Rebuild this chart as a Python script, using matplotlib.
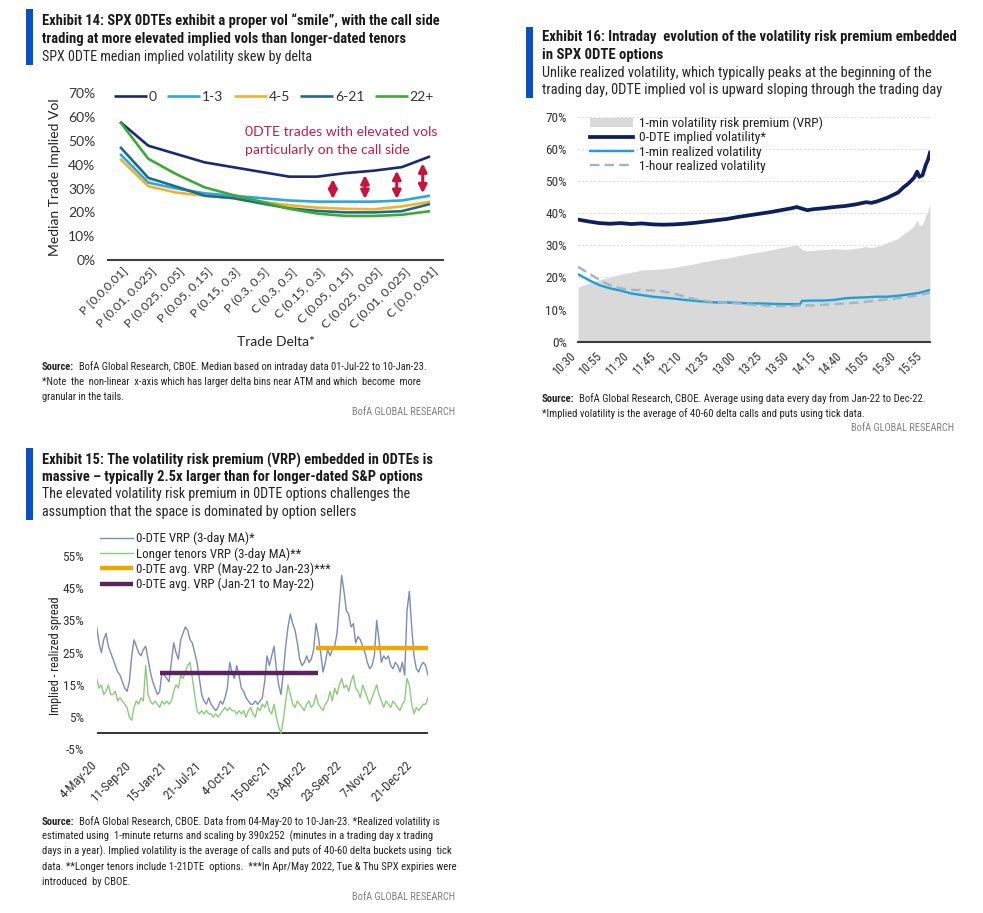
import matplotlib
matplotlib.use('Agg')
import matplotlib.pyplot as plt
import numpy as np
from matplotlib.patches import Rectangle
from matplotlib.transforms import ScaledTranslation
from matplotlib import font_manager as fm

W, H, DPI = 983, 913, 100
CHART14 = ['Lato', 'DejaVu Sans']
BLUE = '#0B4FC5'
TXT = '#1a1a1a'
RED = '#C8143C'

# ---------------- Exhibit 14 data ----------------
delta_labels = ['P [0.0,0.01]', 'P (0.01, 0.025]', 'P (0.025, 0.05]', 'P (0.05, 0.15]',
                'P (0.15, 0.3]', 'P (0.3, 0.5]', 'C (0.3, 0.5]', 'C (0.15, 0.3]',
                'C (0.05, 0.15]', 'C (0.025, 0.05]', 'C (0.01, 0.025]', 'C [0.0, 0.01]']
tenor_names = ['0', '1-3', '4-5', '6-21', '22+']
iv_0 = [58, 48, 44.5, 41, 39, 37, 35, 35, 36.5, 37.5, 39, 43.5]
iv_1_3 = [44.5, 32.5, 30, 28, 27, 26, 25, 24.5, 24.5, 24.5, 25, 27]
iv_4_5 = [42.5, 31, 28.3, 27, 26, 24.5, 23, 22, 21.5, 21.3, 22.5, 24.5]
iv_6_21 = [47.5, 34.5, 30.8, 27, 26, 23.8, 21.7, 20.6, 20, 20, 20.5, 23.5]
iv_22p = [58, 42.5, 36, 30.5, 27.3, 24.5, 21.5, 19.5, 18.5, 18.5, 19, 20.5]
tenor_colors = ['#1B2A6B', '#2AA8E0', '#F2B12A', '#1F6C8A', '#3DAA35']
arrow_x = [7.55, 8.69, 9.82, 10.74]
arrow_lo = [25.6, 25.6, 25.6, 28.0]
arrow_hi = [34.0, 35.7, 37.5, 40.6]

# ---------------- Exhibit 16 data ----------------
imp_times = ['10:30', '10:40', '10:50', '11:00', '11:10', '11:20', '11:30', '11:40', '11:50',
             '12:00', '12:10', '12:20', '12:30', '12:40', '12:50', '13:00', '13:10', '13:20',
             '13:30', '13:40', '13:50', '13:55', '14:00', '14:05', '14:10', '14:20', '14:30',
             '14:40', '14:50', '15:00', '15:05', '15:10', '15:20', '15:30', '15:35', '15:40',
             '15:45', '15:48', '15:50', '15:53', '15:56', '15:58', '16:00']
implied_vol = [38.0, 37.4, 36.9, 36.7, 36.9, 36.6, 36.8, 36.5, 36.4,
               36.5, 36.7, 37.0, 37.4, 37.8, 38.2, 38.8, 39.3, 39.8,
               40.3, 40.9, 41.5, 41.9, 41.4, 40.9, 41.2, 41.5, 41.9,
               42.2, 42.7, 43.4, 43.2, 43.6, 44.8, 46.4, 48.0, 49.3,
               51.0, 52.9, 51.3, 51.8, 55.0, 56.5, 58.8]
vrp_1min = [17.0, 18.2, 19.3, 20.1, 21.0, 21.6, 22.3, 22.5, 22.7,
            23.1, 23.7, 24.3, 25.0, 25.6, 26.0, 26.7, 27.4, 27.9,
            28.5, 29.2, 29.8, 30.2, 28.7, 28.2, 28.4, 28.7, 28.9,
            28.7, 29.0, 29.6, 29.3, 29.6, 30.8, 32.1, 33.5, 34.6,
            36.0, 37.8, 36.1, 36.4, 39.3, 40.6, 42.7]
rv_times = ['10:30', '10:40', '10:50', '11:00', '11:10', '11:20', '11:30', '11:40', '11:50',
            '12:00', '12:10', '12:20', '12:30', '12:40', '12:50', '13:00', '13:10', '13:20',
            '13:30', '13:40', '13:50', '13:58', '14:00', '14:10', '14:20', '14:30', '14:40',
            '14:50', '15:00', '15:10', '15:20', '15:30', '15:40', '15:50', '16:00']
rv_1min = [21.0, 19.2, 17.6, 16.6, 15.9, 15.0, 14.5, 14.0, 13.7,
           13.4, 13.0, 12.7, 12.4, 12.2, 12.2, 12.1, 11.9, 11.9,
           11.8, 11.7, 11.7, 11.6, 12.7, 12.8, 12.8, 13.0, 13.5,
           13.7, 13.8, 14.0, 14.0, 14.3, 14.7, 15.2, 16.1]
rv_1hour = [23.3, 21.3, 19.2, 17.6, 16.6, 16.1, 16.1, 15.9, 15.6,
            15.0, 14.0, 13.2, 12.7, 12.2, 12.1, 11.9, 11.6, 11.3,
            11.1, 11.1, 11.1, 11.2, 11.3, 11.3, 11.5, 11.7, 11.9,
            12.1, 12.4, 12.8, 13.2, 13.5, 14.0, 14.5, 15.2]
time_ticks = ['10:30', '10:55', '11:20', '11:45', '12:10', '12:35', '13:00', '13:25',
              '13:50', '14:15', '14:40', '15:05', '15:30', '15:55']

# ---------------- Exhibit 15 data ----------------
date_ticks = ['4-May-20', '11-Sep-20', '15-Jan-21', '21-Jul-21', '4-Oct-21',
              '15-Dec-21', '13-Apr-22', '23-Sep-22', '7-Nov-22', '21-Dec-22']
vrp_0dte = [33, 28, 25, 29, 31, 27, 25, 23, 21, 19,
            18, 16, 14, 13, 16, 24, 29, 27, 25, 24,
            26, 27, 23, 19, 16, 14, 12, 13, 19, 18,
            17, 16, 22, 28, 25, 23, 29, 31, 33, 32,
            29, 28, 25, 22, 17, 12, 10, 9, 11, 9,
            8, 7, 8, 10, 9, 11, 14, 22, 19, 17,
            21, 18, 14, 13, 11, 10, 9, 9, 10, 9,
            10, 11, 16, 24, 21, 24, 27, 20, 15, 12,
            19, 27, 33, 37, 34, 32, 28, 23, 21, 22,
            24, 22, 23, 26, 34, 30, 25, 19, 22, 26,
            24, 26, 27, 31, 40, 49, 44, 38, 37, 33,
            34, 28, 30, 29, 27, 25, 22, 20, 21, 24,
            35, 29, 22, 24, 23, 24, 21, 20, 22, 21,
            19, 22, 18, 38, 44, 33, 24, 20, 19, 21,
            22, 21, 18]
vrp_longer = [17, 14, 15, 12, 13, 15, 12, 12, 13, 10,
              11, 10, 9, 8, 5, 4, 8, 10, 9, 11,
              10, 21, 12, 10, 9, 10, 9, 8, 10, 9,
              10, 9, 10, 13, 15, 14, 18, 17, 19, 21,
              22, 17, 12, 7, 6, 7, 6, 7, 6, 6,
              5, 6, 5, 6, 7, 8, 7, 8, 7, 7,
              6, 7, 6, 7, 5, 7, 8, 6, 5, 8,
              7, 9, 8, 10, 7, 6, 9, 5, 2, 0,
              4, 10, 15, 12, 9, 8, 10, 9, 8, 7,
              9, 10, 8, 9, 12, 9, 8, 7, 9, 10,
              13, 10, 14, 12, 15, 17, 14, 15, 13, 16,
              18, 14, 13, 11, 15, 13, 11, 9, 11, 13,
              15, 12, 10, 8, 10, 9, 8, 10, 9, 8,
              7, 9, 10, 17, 15, 9, 6, 8, 7, 8,
              9, 9, 11]
tick_every = 15
avg_recent = 26.4          # May-22 to Jan-23
avg_recent_span = (94, 142)
avg_early = 18.6           # Jan-21 to May-22
avg_early_span = (27, 95)


# ================= font choice: a condensed sans if one is installed =================
def pick_narrow():
    entries = fm.fontManager.ttflist
    prefs = ['Liberation Sans Narrow', 'Roboto Condensed', 'Open Sans Condensed',
             'Noto Sans Condensed', 'DejaVu Sans Condensed']
    names = {f.name for f in entries}
    for p in prefs:
        if p in names:
            return [p, 'DejaVu Sans'], 'normal'
    order = ['Liberation Sans', 'Roboto', 'Noto Sans', 'Open Sans', 'DejaVu Sans', 'Lato', 'Inter']
    for p in order:
        for f in entries:
            if f.name == p and str(f.stretch) in ('condensed', 'semi-condensed', 'extra-condensed'):
                return [p, 'DejaVu Sans'], str(f.stretch)
    return ['Liberation Sans', 'DejaVu Sans'], 'normal'


NFAM, NSTR = pick_narrow()
NF = dict(family=NFAM, stretch=NSTR)

# ================= figure =================
fig = plt.figure(figsize=(W / DPI, H / DPI), dpi=DPI)
fig.patch.set_facecolor('white')
R = fig.canvas.get_renderer()


def fx(x):
    return x / W


def fy(y):
    return 1 - y / H


def twidth(s, fs, weight='normal', font=NF):
    t = fig.text(0, 0, s, fontsize=fs, fontweight=weight, **font)
    w = t.get_window_extent(R).width
    t.remove()
    return w


def parts_width(parts, fs, gap_em):
    tot = sum(twidth(s, fs, wt) for s, wt in parts)
    return tot + gap_em * fs * DPI / 72 * (len(parts) - 1)


def fit_fs(parts, target, gap_em=0.45):
    return 10 * target / parts_width(parts, 10, gap_em)


def draw_parts(parts, x, y, fs, color=TXT, gap_em=0.45):
    cur = x
    for s, wt in parts:
        t = fig.text(fx(cur), fy(y), s, fontsize=fs, fontweight=wt, color=color,
                     va='center', ha='left', **NF)
        cur += t.get_window_extent(R).width + gap_em * fs * DPI / 72


def header(x, bar_top, bar_bot, titles, title_y, title_w, subs, sub_y, sub_w):
    fig.patches.append(Rectangle((fx(x - 15.5), fy(bar_bot)), 7 / W, (bar_bot - bar_top) / H,
                                 transform=fig.transFigure, color=BLUE, lw=0))
    tfs = fit_fs([(titles[0], 'bold')], title_w)
    for s, y in zip(titles, title_y):
        draw_parts([(s, 'bold')], x, y, tfs, color=TXT)
    sfs = fit_fs([(subs[0], 'normal')], sub_w)
    for s, y in zip(subs, sub_y):
        draw_parts([(s, 'normal')], x, y, sfs, color='#262626')


def footer(x, lines, ys, width, bofa_right, bofa_y):
    first = [('Source:', 'bold'), (lines[0], 'normal')]
    fs = fit_fs(first, width)
    draw_parts(first, x, ys[0], fs, color='#222222')
    for s, y in zip(lines[1:], ys[1:]):
        draw_parts([(s, 'normal')], x, y, fs, color='#222222')
    bfs = 10 * 104 / twidth('BofA GLOBAL RESEARCH', 10)
    fig.text(fx(bofa_right), fy(bofa_y), 'BofA GLOBAL RESEARCH', fontsize=bfs,
             color='#7f7f7f', ha='right', va='center', **NF)


# ---------------- Exhibit 14 ----------------
header(41.7, 9.3, 65,
       ['Exhibit 14: SPX 0DTEs exhibit a proper vol \u201csmile\u201d, with the call side',
        'trading at more elevated implied vols than longer-dated tenors'], [20.7, 39.3], 399,
       ['SPX 0DTE median implied volatility skew by delta'], [57.3], 270)

ax1 = fig.add_axes([fx(108), fy(260), (443 - 108) / W, (260 - 93.3) / H])
xc = np.arange(len(delta_labels))
for name, vals, col in zip(tenor_names, [iv_0, iv_1_3, iv_4_5, iv_6_21, iv_22p], tenor_colors):
    ax1.plot(xc, vals, color=col, lw=1.9, label=name, solid_capstyle='butt')
ax1.set_xlim(-0.43, 11.46)
ax1.set_ylim(0, 70)
ax1.set_yticks(range(0, 71, 10), [f'{v}%' for v in range(0, 71, 10)])
ax1.set_xticks(xc, delta_labels, rotation=45, ha='right', rotation_mode='anchor', va='center')
ax1.tick_params(length=0, colors='#333333')
ax1.tick_params(axis='y', pad=9, labelsize=10)
ax1.tick_params(axis='x', pad=5, labelsize=8.8)
for lab in ax1.get_yticklabels() + ax1.get_xticklabels():
    lab.set_family(CHART14)
for lab in ax1.get_xticklabels():
    lab.set_transform(lab.get_transform() + ScaledTranslation(4 / 72, -2 / 72, fig.dpi_scale_trans))
for s in ['top', 'right', 'left']:
    ax1.spines[s].set_visible(False)
ax1.spines['bottom'].set_color('#404040')
ax1.spines['bottom'].set_linewidth(1.5)
leg1 = ax1.legend(loc='center', bbox_to_anchor=(0.496, 0.98), ncol=5, frameon=False,
                  prop={'family': CHART14, 'size': 10}, handlelength=2.35, handletextpad=0.15,
                  columnspacing=0.75, borderaxespad=0, borderpad=0)
for t in leg1.get_texts():
    t.set_color('#333333')
for xa, lo, hi in zip(arrow_x, arrow_lo, arrow_hi):
    ax1.annotate('', xy=(xa, hi), xytext=(xa, lo),
                 arrowprops=dict(arrowstyle='<|-|>', color=RED, lw=2.2, mutation_scale=12,
                                 shrinkA=0, shrinkB=0))
afs = 10 * 192 / twidth('0DTE trades with elevated vols', 10, font=dict(family=CHART14))
ax1.text(4.43, 53.8, '0DTE trades with elevated vols', color='#B8204A', fontsize=afs,
         family=CHART14, va='center', ha='left')
ax1.text(4.43, 46.2, 'particularly on the call side', color='#B8204A', fontsize=afs,
         family=CHART14, va='center', ha='left')
yfs = 10 * 157 / twidth('Median Trade Implied Vol', 10, font=dict(family=CHART14))
fig.text(fx(55), fy(176.7), 'Median Trade Implied Vol', rotation=90, fontsize=yfs,
         family=CHART14, color='#222222', ha='center', va='center')
xfs = 10 * 78 / twidth('Trade Delta*', 10, font=dict(family=CHART14))
fig.text(fx(276), fy(341.7), 'Trade Delta*', fontsize=xfs, family=CHART14,
         color='#222222', ha='center', va='center')
footer(41.7, ['BofA Global Research, CBOE. Median based on intraday data 01-Jul-22 to 10-Jan-23.',
              '*Note  the  non-linear  x-axis which has larger delta bins near ATM and which  become  more',
              'granular in the tails.'], [366.7, 381.7, 396.7], 385, 455, 411.7)

# ---------------- Exhibit 16 ----------------
header(541.7, 27.3, 98.3,
       ['Exhibit 16: Intraday  evolution of the volatility risk premium embedded',
        'in SPX 0DTE options'], [37.3, 55], 416.7,
       ['Unlike realized volatility, which typically peaks at the beginning of the',
        'trading day, 0DTE implied vol is upward sloping through the trading day'], [72.7, 90], 388)


def to_min(t):
    h, m = t.split(':')
    return (int(h) - 10) * 60 + int(m) - 30


imp_m = [to_min(t) for t in imp_times]
rv_m = [to_min(t) for t in rv_times]
tick_m = [to_min(t) for t in time_ticks]

ax2 = fig.add_axes([fx(578), fy(341.7), (930 - 578) / W, (341.7 - 116.7) / H])
ax2.set_axisbelow(True)
ax2.yaxis.grid(True, color='#d9d9d9', ls=(0, (1.5, 2)), lw=0.8)
ax2.fill_between(imp_m, 0, vrp_1min, color='#d9d9d9', lw=0, label='1-min volatility risk premium (VRP)')
ax2.plot(imp_m, implied_vol, color='#0E1F5E', lw=2.7, label='0-DTE implied volatility*')
ax2.plot(rv_m, rv_1min, color='#1E9FD8', lw=1.7, label='1-min realized volatility')
ax2.plot(rv_m, rv_1hour, color='#9DB7C6', lw=1.7, ls=(0, (4, 2.2)), label='1-hour realized volatility')
ax2.set_xlim(0, 330)
ax2.set_ylim(0, 70)
ax2.set_yticks(range(0, 71, 10), [f'{v}%' for v in range(0, 71, 10)])
ax2.set_xticks(tick_m, time_ticks, rotation=45, ha='right')
ax2.tick_params(length=0, colors='#333333')
ax2.tick_params(axis='y', pad=8, labelsize=9.5)
ax2.tick_params(axis='x', pad=6, labelsize=8.8)
for lab in ax2.get_yticklabels() + ax2.get_xticklabels():
    lab.set_family(NFAM)
    lab.set_stretch(NSTR)
for s in ['top', 'right', 'left']:
    ax2.spines[s].set_visible(False)
ax2.spines['bottom'].set_color('#3a3a3a')
ax2.spines['bottom'].set_linewidth(1.5)
leg2 = ax2.legend(loc='upper left', bbox_to_anchor=(fx(590), fy(116.5)), bbox_transform=fig.transFigure,
                  frameon=False, prop={'family': NFAM, 'stretch': NSTR, 'size': 9.6}, handlelength=3.25,
                  handletextpad=0.4, labelspacing=0.1, borderaxespad=0, borderpad=0)
for t in leg2.get_texts():
    t.set_color('#222222')
footer(541.7, ['BofA Global Research, CBOE. Average using data every day from Jan-22 to Dec-22.',
               '*Implied volatility is the average of 40-60 delta calls and puts using tick data.'],
       [399, 414], 379, 954, 428)

# ---------------- Exhibit 15 ----------------
header(41.7, 448.3, 520,
       ['Exhibit 15: The volatility risk premium (VRP) embedded in 0DTEs is',
        'massive \u2013 typically 2.5x larger than for longer-dated S&P options'], [460, 476.7], 392,
       ['The elevated volatility risk premium in 0DTE options challenges the',
        'assumption that the space is dominated by option sellers'], [494.3, 511.7], 367.7)

ax3 = fig.add_axes([fx(96.7), fy(749.3), (428 - 96.7) / W, (749.3 - 533.5) / H])
idx = np.arange(len(vrp_0dte))
ax3.axhline(0, color='#333333', lw=1.4, zorder=1)
ax3.plot(idx, vrp_0dte, color='#7B8BBB', lw=1.0, zorder=3, label='0-DTE VRP (3-day MA)*')
ax3.plot(idx, vrp_longer, color='#8DCB7C', lw=1.0, zorder=2, label='Longer tenors VRP (3-day MA)**')
ax3.plot(avg_recent_span, [avg_recent, avg_recent], color='#F0A800', lw=3.2, zorder=4,
         solid_capstyle='butt', label='0-DTE avg. VRP (May-22 to Jan-23)***')
ax3.plot(avg_early_span, [avg_early, avg_early], color='#5A2461', lw=3.2, zorder=4,
         solid_capstyle='butt', label='0-DTE avg. VRP (Jan-21 to May-22)')
ax3.set_xlim(0, len(vrp_0dte) - 1)
ax3.set_ylim(-5, 62)
ax3.set_yticks(range(-5, 56, 10), [f'{v}%' for v in range(-5, 56, 10)])
ax3.set_xticks(np.arange(len(date_ticks)) * tick_every, date_ticks, rotation=45, ha='right')
ax3.tick_params(length=0, colors='#333333')
ax3.tick_params(axis='y', pad=9, labelsize=9.5)
ax3.tick_params(axis='x', pad=7, labelsize=9.3)
for lab in ax3.get_yticklabels() + ax3.get_xticklabels():
    lab.set_family(NFAM)
    lab.set_stretch(NSTR)
for lab in ax3.get_xticklabels():
    lab.set_transform(lab.get_transform() + ScaledTranslation(2 / 72, 0, fig.dpi_scale_trans))
for s in ax3.spines.values():
    s.set_visible(False)
leg3 = ax3.legend(loc='upper left', bbox_to_anchor=(fx(100), fy(532)), bbox_transform=fig.transFigure,
                  frameon=False, prop={'family': NFAM, 'stretch': NSTR, 'size': 9.3}, handlelength=2.55,
                  handletextpad=0.25, labelspacing=0.14, borderaxespad=0, borderpad=0)
for t in leg3.get_texts():
    t.set_color('#222222')
ylfs = 10 * 118 / twidth('Implied - realized spread', 10)
fig.text(fx(56), fy(656), 'Implied - realized spread', rotation=90, fontsize=ylfs,
         color='#222222', ha='center', va='center', **NF)
footer(41.7, ['BofA Global Research, CBOE. Data from 04-May-20 to 10-Jan-23. *Realized volatility is',
              'estimated using  1-minute returns and scaling by 390x252  (minutes in a trading day x trading',
              'days in a year). Implied volatility is the average of calls and puts of 40-60 delta buckets using  tick',
              'data. **Longer tenors include 1-21DTE  options.  ***In Apr/May 2022, Tue & Thu SPX expiries were',
              'introduced  by CBOE.'], [821.7, 836.7, 851.7, 866.7, 881.7], 397.7, 455, 896.7)

fig.savefig('out.png', dpi=DPI)
